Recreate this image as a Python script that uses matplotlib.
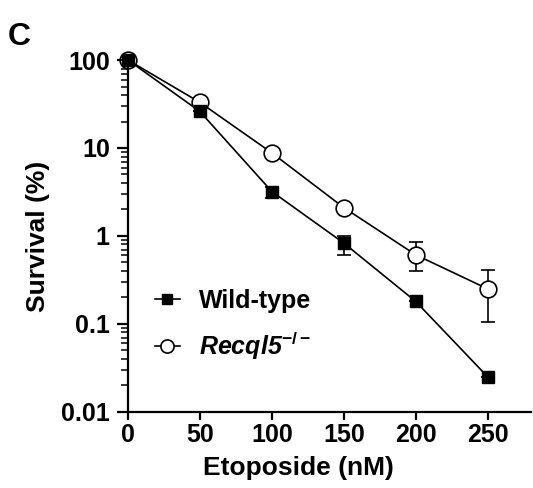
import matplotlib
matplotlib.use("Agg")
import matplotlib.pyplot as plt
from matplotlib.lines import Line2D

# Survival after etoposide treatment
dose = [0, 50, 100, 150, 200, 250]

wt_mean = [100, 26, 3.2, 0.83, 0.18, 0.025]
wt_lo = [0, 0, 0.5, 0.22, 0, 0]
wt_hi = [0, 0, 0.4, 0.17, 0, 0]

ko_mean = [100, 33, 8.8, 2.1, 0.61, 0.25]
ko_lo = [0, 0, 0, 0, 0.21, 0.145]
ko_hi = [0, 0, 0, 0, 0.24, 0.16]

yticks = [0.01, 0.1, 1, 10, 100]
ytick_labels = ['0.01', '0.1', '1', '10', '100']
xticks = [0, 50, 100, 150, 200, 250]

plt.rcParams['font.family'] = 'Liberation Sans'
plt.rcParams['font.weight'] = 'bold'
plt.rcParams['mathtext.fontset'] = 'custom'
plt.rcParams['mathtext.rm'] = 'Liberation Sans:bold'
plt.rcParams['mathtext.it'] = 'Liberation Sans:bold:italic'
plt.rcParams['mathtext.bf'] = 'Liberation Sans:bold'

fig = plt.figure(figsize=(5.33, 4.88), dpi=100)
ax = fig.add_axes([0.240, 0.156, 0.756, 0.721])

ax.errorbar(dose, wt_mean, yerr=[wt_lo, wt_hi], color='black', marker='s',
            markersize=9, markerfacecolor='black', linewidth=1.2,
            capsize=5, elinewidth=1.2, capthick=1.2, zorder=3, clip_on=False)
ax.errorbar(dose, ko_mean, yerr=[ko_lo, ko_hi], color='black', marker='o',
            markersize=12, markerfacecolor='white', markeredgewidth=1.2,
            linewidth=1.2, capsize=5, elinewidth=1.2, capthick=1.2,
            zorder=2, clip_on=False)

ax.set_yscale('log')
ax.set_ylim(0.01, 100)
ax.set_xlim(0, 280)
ax.set_yticks(yticks)
ax.set_yticklabels(ytick_labels)
ax.set_xticks(xticks)

for side in ['top', 'right']:
    ax.spines[side].set_visible(False)
for side in ['left', 'bottom']:
    ax.spines[side].set_linewidth(1.6)

ax.tick_params(axis='both', which='major', labelsize=18, width=1.6, length=8, pad=5)
ax.tick_params(axis='x', which='major', length=6, pad=2)
ax.tick_params(axis='y', which='minor', width=1.1, length=5)
ax.tick_params(axis='x', which='minor', bottom=False)

ax.set_xlabel('Etoposide (nM)', fontsize=19, fontweight='bold', labelpad=5)
ax.xaxis.set_label_coords(0.424, -0.125)
ax.set_ylabel('Survival (%)', fontsize=19, fontweight='bold', labelpad=8)

handles = [
    Line2D([], [], color='black', marker='s', markersize=6.5, linewidth=1.2),
    Line2D([], [], color='black', marker='o', markersize=9.5, markerfacecolor='white',
           markeredgewidth=1.2, linewidth=1.2),
]
labels = ['Wild-type', 'Recql5$^{-/-}$']
leg = ax.legend(handles, labels, loc='center left', bbox_to_anchor=(0.011, 0.246),
                frameon=False, fontsize=18, handlelength=1.0, handletextpad=0.75,
                labelspacing=0.67)
leg.get_texts()[1].set_fontstyle('italic')

fig.text(0.015, 0.955, 'C', fontsize=23, fontweight='bold', va='top', ha='left')

fig.savefig('out.png', dpi=100)
